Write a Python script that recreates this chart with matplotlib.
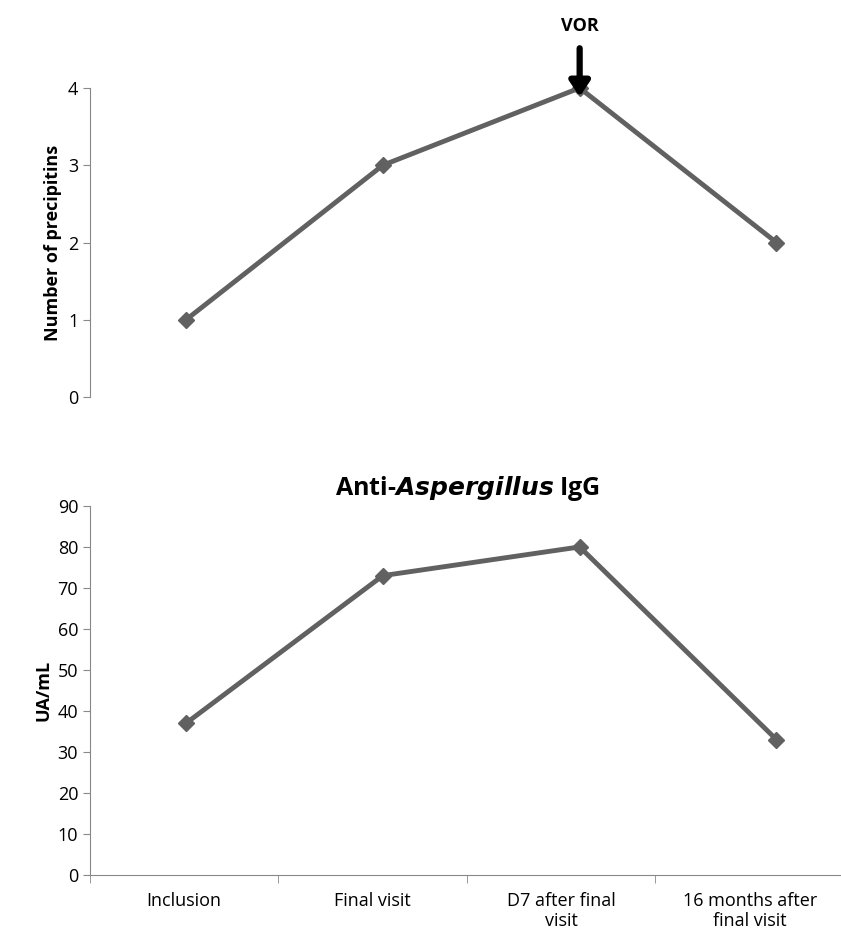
import matplotlib.pyplot as plt
import numpy as np

plt.rcParams['font.family'] = ['Open Sans', 'DejaVu Sans']

categories = ['Inclusion', 'Final visit', 'D7 after final\nvisit', '16 months after\nfinal visit']
precipitins = [1, 3, 4, 2]
igg = [37, 73, 80, 33]

grey = '#616161'
x = np.arange(len(categories))
# category band edges (Excel puts points and bands a bit apart)
edges = np.array([-0.488, 0.468, 1.43, 2.385, 3.345])
label_pos = (edges[:-1] + edges[1:]) / 2

fig = plt.figure(figsize=(8.41, 9.51), dpi=100)
ax1 = fig.add_axes([0.107, 0.5825, 0.897, 0.325])
ax2 = fig.add_axes([0.107, 0.080, 0.897, 0.388])

for ax in (ax1, ax2):
    ax.set_xlim(edges[0], edges[-1])
    for s in ('top', 'right'):
        ax.spines[s].set_visible(False)
    ax.spines['left'].set_color('#888888')
    ax.spines['bottom'].set_color('#888888')
    ax.tick_params(axis='y', direction='out', color='#888888', labelsize=13, length=5)

# top chart
ax1.plot(x, precipitins, color=grey, lw=3.5, marker='D', ms=8, clip_on=False)
ax1.set_ylim(0, 4)
ax1.set_yticks(range(5))
ax1.spines['bottom'].set_visible(False)
ax1.set_xticks([])
ax1.set_ylabel('Number of precipitins', fontsize=13, fontweight='bold')
ax1.annotate('', xy=(2, 3.85), xytext=(2, 4.55), annotation_clip=False,
             arrowprops=dict(arrowstyle='-|>,head_width=0.6,head_length=0.9', color='black', lw=4.5))
ax1.text(2, 4.8, 'VOR', ha='center', va='center', fontsize=13, fontweight='bold')

# bottom chart
ax2.plot(x, igg, color=grey, lw=3.5, marker='D', ms=8, clip_on=False)
ax2.set_ylim(0, 90)
ax2.set_yticks(range(0, 91, 10))
ax2.set_xticks(label_pos)
ax2.set_xticklabels(categories, fontsize=13)
ax2.set_xticks(edges, minor=True)
ax2.tick_params(axis='x', which='major', length=0, pad=12)
ax2.tick_params(axis='x', which='minor', length=6, color='#888888')
ax2.set_ylabel('UA/mL', fontsize=13, fontweight='bold')
ax2.set_title('Anti-$\\mathbfit{Aspergillus}$ IgG', fontsize=18, fontweight='bold', pad=8)

fig.savefig('out.png', dpi=100)
